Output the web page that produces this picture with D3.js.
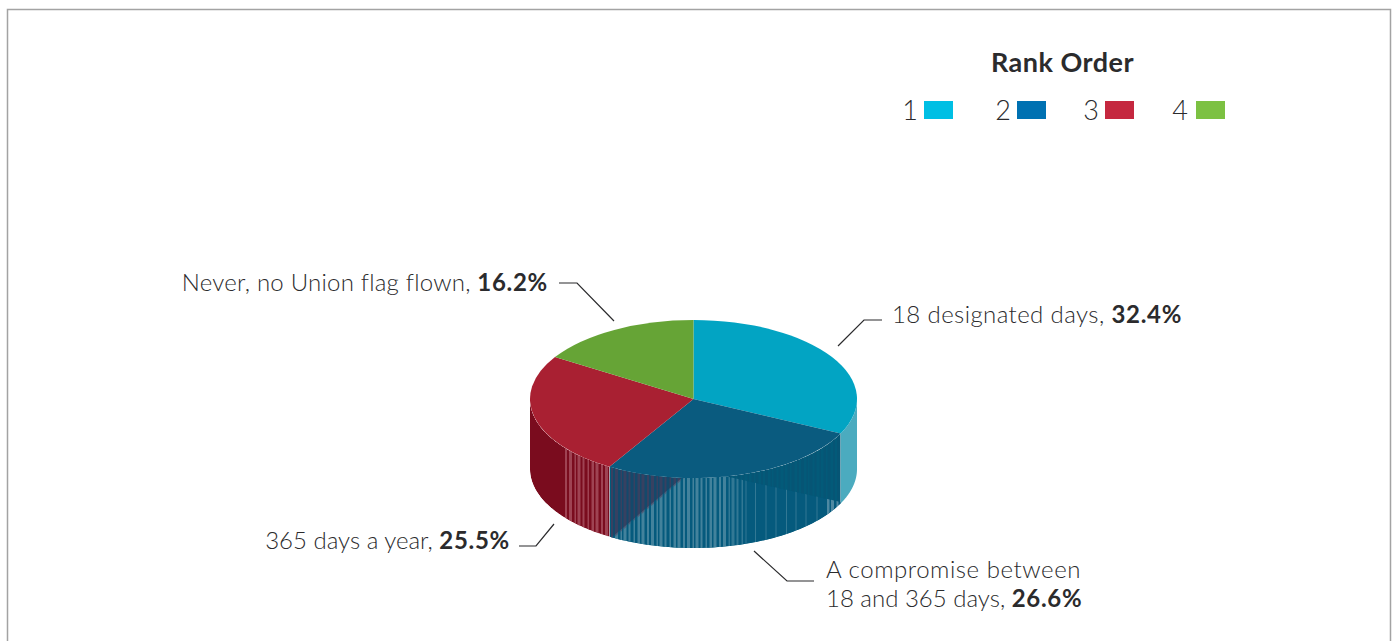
<!DOCTYPE html>
<html><head><meta charset="utf-8">
<script src="https://cdn.jsdelivr.net/npm/d3@7"></script>
<style>html,body{margin:0;padding:0;background:#fff}svg{display:block}
text{font-family:Lato,"Open Sans",sans-serif;fill:#2b2b2d}</style></head>
<body><svg id="c" width="1398" height="641"></svg>
<script>
const categories = ["18 designated days","A compromise between 18 and 365 days","365 days a year","Never, no Union flag flown"];
const values = [32.4,26.6,25.5,16.2];
const legendLabels = ["1","2","3","4"];
const legendColors = ["#00bfe4","#0071b2","#c5283f","#7cc142"];
const topColors = ["#02a4c3","#0a5b7f","#a92032","#66a436"];

const cx=693.5,cy=399,rx=163.5,ry=79,depth=70;
const svg=d3.select("#c");
svg.append("rect").attr("x",7.5).attr("y",9.5).attr("width",1383).attr("height",660).attr("fill","#fff").attr("stroke","#a3a3a3").attr("stroke-width",1.5);

const pie=d3.pie().sort(null).value(d=>d)(values);
const px=a=>cx+rx*Math.sin(a), py=a=>cy-ry*Math.cos(a);
const arc=d3.arc().innerRadius(0).outerRadius(rx);
const defs=svg.append("defs");
function wallPath(a0,a1){
  const n=d3.range(0,61).map(i=>a0+(a1-a0)*i/60);
  const up=n.map(a=>[px(a),py(a)]), dn=n.slice().reverse().map(a=>[px(a),py(a)+depth]);
  return d3.line()(up.concat(dn))+"Z";
}
const vis=(d)=>[Math.max(d.startAngle,Math.PI/2),Math.min(d.endAngle,Math.PI*1.5)];
const wall=svg.append("g");
const [b0,b1]=vis(pie[0]);
wall.append("path").attr("d",wallPath(b0,b1)).attr("fill","#4babbf");
const [d0,d1]=vis(pie[1]);
defs.append("clipPath").attr("id","cd").append("path").attr("d",wallPath(d0,d1));
defs.append("clipPath").attr("id","cr").append("path").attr("d",wallPath(...vis(pie[2])));
const gd=wall.append("g").attr("clip-path","url(#cd)");
gd.append("path").attr("d",wallPath(d0,d1)).attr("fill","#035a79");
gd.append("polygon").attr("points","611,440 611,540 684,478").attr("fill","#14496b");
const lower=gd.append("g");
defs.append("clipPath").attr("id","lw").append("polygon").attr("points","611,538 683,477 725,476 841,502 841,560 611,560");
lower.attr("clip-path","url(#lw)");
lower.append("rect").attr("x",600).attr("y",470).attr("width",250).attr("height",90).attr("fill","#055a7d");
const stripeW=[2,3,1.5,3,2,1.5,2.5,3];
const stripeG=[2,2.5,1.5,2,3,2.5,1.5,2.5];
function stripes(g,x0,x1,col,op,sparse){
  let x=x0,i=0;
  while(x<x1){
    const w=sparse&&sparse(x)?1:stripeW[i%8];
    const gap=sparse&&sparse(x)?7+stripeG[i%8]:stripeG[i%8];
    g.append("rect").attr("x",x).attr("y",430).attr("width",w).attr("height",130)
     .attr("fill",col).attr("opacity",typeof op==="function"?op(x):op);
    x+=w+gap;i++;
  }
}
stripes(lower,611,841,"#a8c4d0",x=>x<725?0.38:x<825?0.28:0.45,x=>x>=745&&x<820);
const upper=gd.append("g");
defs.append("clipPath").attr("id","up1").append("polygon").attr("points","611,440 611,540 684,478 611,440");
upper.append("g").attr("clip-path","url(#up1)").call(g=>stripes(g,611,684,"#5a3a58",0.5));
defs.append("clipPath").attr("id","up2").append("polygon").attr("points","725,470 841,425 841,502 725,476");
upper.append("g").attr("clip-path","url(#up2)").call(g=>stripes(g,725,841,"#0b5070",0.45));
const [r0,r1]=vis(pie[2]);
const gr=wall.append("g").attr("clip-path","url(#cr)");
gr.append("path").attr("d",wallPath(r0,r1)).attr("fill","#7a0c1e");
stripes(gr,565,611,"#c47a88",0.5);

const topFace=svg.append("g").attr("transform",`translate(${cx},${cy}) scale(1,${ry/rx})`);
topFace.selectAll("path").data(pie).join("path").attr("d",arc).attr("fill",(d,i)=>topColors[i]);

const leaders=[[[838,346],[864,320],[882,320]],[[754,551],[787,581],[814,581]],[[554,524],[536,546],[519,546]],[[614,321],[577,283],[559,283]]];
svg.append("g").selectAll("path").data(leaders).join("path").attr("d",d=>d3.line()(d)).attr("fill","none").attr("stroke","#2b2b2d").attr("stroke-width",1.2);

function label(x,y,anchor,plain,bold,sp){
  const t=svg.append("text").attr("x",x).attr("y",y).attr("text-anchor",anchor).style("font-size","24px").style("font-weight",300).style("letter-spacing",sp+"px");
  t.append("tspan").text(plain);
  if(bold) t.append("tspan").style("font-weight",700).style("letter-spacing","0.7px").text(bold);
}
const pct=values.map(v=>v.toFixed(1)+"%");
label(892,323,"start",categories[0]+", ",pct[0],0.4);
label(826,578,"start","A compromise between","",0.55);
label(826,607,"start","18 and 365 days, ",pct[1],0);
label(510,549,"end",categories[2]+", ",pct[2],0);
label(548,291,"end",categories[3]+", ",pct[3],0.22);

svg.append("text").attr("x",1062.5).attr("y",72).attr("text-anchor","middle").style("font-size","27px").style("font-weight",700).style("letter-spacing","0.5px").text("Rank Order");
const lx=[924,1017,1105,1196], tx=[918,1011,1099,1188];
const lg=svg.append("g").selectAll("g").data(legendLabels).join("g");
lg.append("rect").attr("x",(d,i)=>lx[i]).attr("y",101).attr("width",29).attr("height",18).attr("fill",(d,i)=>legendColors[i]);
lg.append("text").attr("x",(d,i)=>tx[i]).attr("y",120).attr("text-anchor","end").style("font-size","27px").style("font-weight",300).text(d=>d);
</script></body></html>
